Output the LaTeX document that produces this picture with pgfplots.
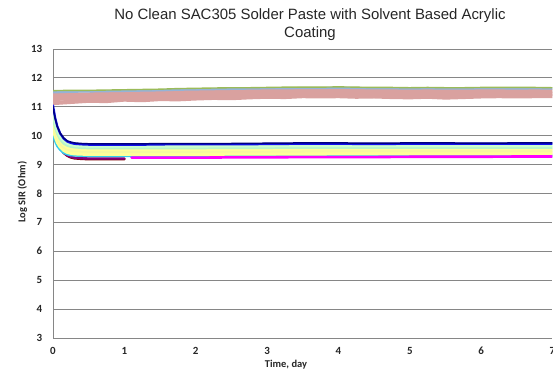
\documentclass[border=0pt]{standalone}
\usepackage{fontspec}
\setmainfont{Carlito}
\newfontfamily\titlefont{Liberation Sans}
\usepackage{pgfplots}
\pgfplotsset{compat=1.18}
\usepackage{pgfplotstable}

\definecolor{gridgray}{HTML}{868686}
\definecolor{txt}{HTML}{262626}
\definecolor{rosy}{HTML}{D9A19F}
\definecolor{steel}{HTML}{95B3D7}
\definecolor{olive}{HTML}{9BBB59}
\definecolor{navyx}{HTML}{000080}
\definecolor{bluex}{HTML}{1010F0}
\definecolor{mintx}{HTML}{CCFFCC}
\definecolor{mintd}{HTML}{B8F5C8}
\definecolor{lemon}{HTML}{FFFF99}
\definecolor{lemond}{HTML}{F5FAA0}
\definecolor{cyanx}{HTML}{33CCEE}
\definecolor{plum}{HTML}{800080}
\definecolor{maroon}{HTML}{800000}
\definecolor{magx}{HTML}{FF00FF}

% high-resistance group (upper band)
\pgfplotstableread{
t     pkb    pkm    pkt    bl     gr
0     11.13  11.27  11.40  11.50  11.56
0.25  11.17  11.30  11.42  11.52  11.57
0.5   11.21  11.32  11.43  11.53  11.57
0.75  11.20  11.33  11.44  11.54  11.58
1     11.25  11.35  11.45  11.55  11.59
1.25  11.23  11.36  11.47  11.56  11.60
1.5   11.27  11.37  11.48  11.57  11.61
1.75  11.26  11.38  11.50  11.59  11.63
2     11.29  11.40  11.51  11.60  11.64
2.25  11.31  11.41  11.52  11.61  11.65
2.5   11.30  11.42  11.53  11.62  11.66
2.75  11.33  11.44  11.54  11.63  11.66
3     11.35  11.45  11.55  11.64  11.67
3.25  11.34  11.45  11.55  11.64  11.68
3.5   11.37  11.46  11.56  11.65  11.68
3.75  11.36  11.46  11.56  11.65  11.68
4     11.37  11.47  11.57  11.66  11.69
4.25  11.35  11.46  11.56  11.65  11.68
4.5   11.36  11.46  11.55  11.64  11.67
4.75  11.34  11.45  11.55  11.64  11.67
5     11.33  11.44  11.54  11.63  11.66
5.25  11.35  11.45  11.55  11.64  11.67
5.5   11.32  11.43  11.54  11.63  11.66
5.75  11.34  11.44  11.54  11.63  11.66
6     11.36  11.46  11.55  11.64  11.67
6.25  11.37  11.46  11.55  11.64  11.67
6.5   11.36  11.45  11.54  11.63  11.67
6.75  11.37  11.46  11.55  11.64  11.67
7     11.37  11.45  11.54  11.63  11.66
}\uppergroup

% low-resistance group (lower band)
\pgfplotstableread{
t     navy   blue   gtwo   gone   yfour  ythree ytwo   yone   cyan   purple dred   mag
0     11.00  11.05  10.85  10.65  10.55  10.45  10.35  10.25  10.05  10.55  10.62  nan
0.03  10.60  10.62  10.47  10.32  10.23  10.14  10.05  9.97   9.82   10.13  10.17  nan
0.06  10.32  10.33  10.21  10.09  10.01  9.93   9.85   9.77   9.65   9.84   9.86   nan
0.1   10.09  10.08  9.99   9.89   9.82   9.74   9.67   9.61   9.52   9.59   9.60   nan
0.15  9.92   9.90   9.83   9.74   9.68   9.61   9.55   9.49   9.41   9.41   9.41   nan
0.2   9.82   9.80   9.74   9.67   9.60   9.54   9.48   9.42   9.36   9.32   9.31   nan
0.25  9.78   9.75   9.69   9.63   9.57   9.50   9.44   9.39   9.33   9.27   9.25   nan
0.3   9.75   9.72   9.67   9.61   9.54   9.48   9.42   9.37   9.32   9.24   9.22   nan
0.4   9.73   9.70   9.65   9.59   9.53   9.47   9.41   9.36   9.31   9.22   9.20   nan
0.5   9.72   9.69   9.64   9.58   9.52   9.46   9.40   9.35   9.30   9.21   9.19   nan
0.7   9.72   9.69   9.64   9.58   9.52   9.46   9.40   9.35   9.30   9.21   9.19   nan
1.0   9.72   9.69   9.64   9.58   9.52   9.46   9.40   9.35   9.30   9.21   9.19   nan
1.1   9.72   9.69   9.64   9.58   9.52   9.46   9.40   9.35   9.30   nan    nan    9.24
1.3   9.72   9.69   9.64   9.58   9.52   9.46   9.40   9.35   9.30   nan    nan    9.24
1.6   9.73   9.70   9.64   9.58   9.52   9.46   9.40   9.35   9.30   nan    nan    9.24
2     9.73   9.70   9.64   9.58   9.52   9.46   9.40   9.35   9.30   nan    nan    9.24
2.5   9.73   9.70   9.65   9.59   9.53   9.47   9.41   9.36   9.31   nan    nan    9.25
3     9.74   9.71   9.65   9.59   9.53   9.47   9.41   9.36   9.31   nan    nan    9.25
3.5   9.75   9.72   9.66   9.60   9.54   9.47   9.41   9.36   9.31   nan    nan    9.26
4     9.75   9.72   9.66   9.60   9.54   9.48   9.42   9.37   9.31   nan    nan    9.26
4.5   9.74   9.71   9.66   9.60   9.54   9.48   9.42   9.37   9.31   nan    nan    9.26
5     9.75   9.72   9.66   9.60   9.54   9.48   9.42   9.37   9.31   nan    nan    9.27
5.5   9.75   9.72   9.66   9.60   9.54   9.48   9.42   9.37   9.31   nan    nan    9.27
6     9.74   9.72   9.66   9.60   9.54   9.48   9.42   9.37   9.31   nan    nan    9.27
6.5   9.75   9.72   9.66   9.60   9.54   9.48   9.42   9.37   9.31   nan    nan    9.28
7     9.75   9.72   9.66   9.60   9.54   9.48   9.42   9.37   9.31   nan    nan    9.28
}\lowergroup

\begin{document}
\begin{tikzpicture}
\begin{axis}[
  at={(0,0)}, anchor=south west,
  scale only axis, width=499.5bp, height=289bp,
  xmin=0, xmax=7, ymin=3, ymax=13,
  xtick={0,...,7}, ytick={3,...,13},
  axis lines=left, axis line style={-, draw=gridgray, line width=0.9bp},
  major tick length=0pt,
  ymajorgrids, grid style={draw=gridgray, line width=0.8bp},
  /pgf/number format/assume math mode=true,
  ticklabel style={font=\fontsize{11}{12}\selectfont\bfseries, text=txt},
  yticklabel style={inner sep=0pt, xshift=-10.5bp},
  xticklabel style={inner sep=0pt, yshift=-9bp},
  every axis plot/.append style={line join=round, line cap=round},
]
  % upper band
  \addplot[rosy, line width=4.2bp] table[x=t, y=pkb] {\uppergroup};
  \addplot[rosy, line width=4.2bp] table[x=t, y=pkm] {\uppergroup};
  \addplot[rosy, line width=4.2bp] table[x=t, y=pkt] {\uppergroup};
  \addplot[steel, line width=2.2bp] table[x=t, y=bl] {\uppergroup};
  \addplot[olive, line width=1.4bp] table[x=t, y=gr] {\uppergroup};
  % lower band
  \addplot[maroon, line width=2.6bp] table[x=t, y=dred] {\lowergroup};
  \addplot[plum, line width=2.4bp] table[x=t, y=purple] {\lowergroup};
  \addplot[cyanx, line width=2.6bp] table[x=t, y=cyan] {\lowergroup};
  \addplot[lemon, line width=3bp] table[x=t, y=yone] {\lowergroup};
  \addplot[lemon, line width=3bp] table[x=t, y=ytwo] {\lowergroup};
  \addplot[lemond, line width=3bp] table[x=t, y=ythree] {\lowergroup};
  \addplot[lemon, line width=3bp] table[x=t, y=yfour] {\lowergroup};
  \addplot[mintd, line width=3bp] table[x=t, y=gone] {\lowergroup};
  \addplot[mintx, line width=3bp] table[x=t, y=gtwo] {\lowergroup};
  \addplot[bluex, line width=2.2bp] table[x=t, y=blue] {\lowergroup};
  \addplot[navyx, line width=1.5bp] table[x=t, y=navy] {\lowergroup};
  \addplot[magx, line width=2.6bp] table[x=t, y=mag] {\lowergroup};
\end{axis}
% titles
\node[anchor=base, text=txt, font=\titlefont\fontsize{15}{18}\selectfont] at (257bp,318bp)
  {No Clean SAC305 Solder Paste with Solvent Based Acrylic};
\node[anchor=base, text=txt, font=\titlefont\fontsize{15}{18}\selectfont] at (257bp,300bp)
  {Coating};
\node[anchor=base, text=txt, font=\fontsize{10.5}{12}\selectfont\bfseries] at (233bp,-29bp)
  {Time, day};
\node[rotate=90, anchor=center, text=txt, font=\fontsize{10.5}{12}\selectfont\bfseries] at (-30.5bp,146bp)
  {Log SIR (Ohm)};
\pgfresetboundingbox
\useasboundingbox (-53bp,-34bp) rectangle (500bp,338bp);
\end{tikzpicture}
\end{document}
